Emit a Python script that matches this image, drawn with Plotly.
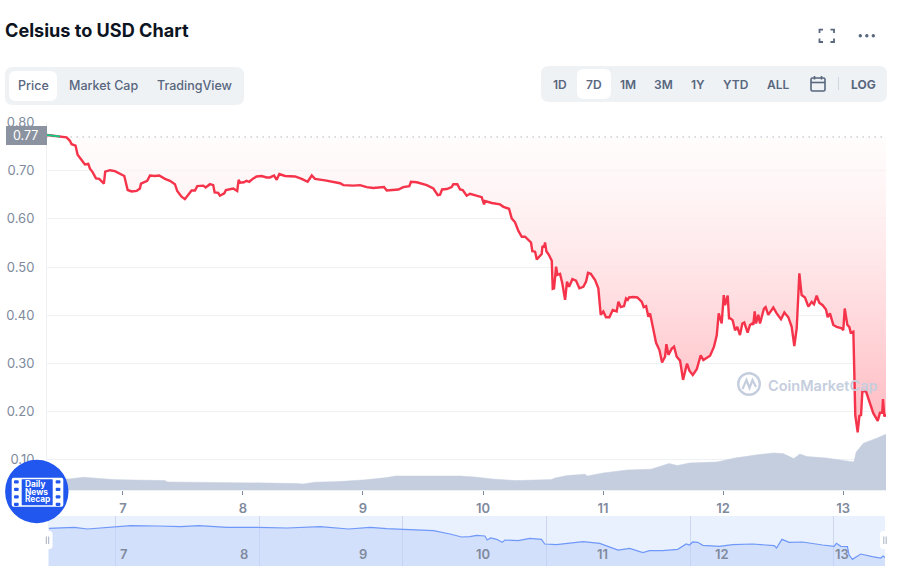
import plotly.graph_objects as go

# 가격 데이터 (day of month, USD)
price_days = [
    6.364, 6.475, 6.530, 6.558, 6.572, 6.605, 6.622, 6.655, 6.683, 6.711, 6.725, 6.747, 6.775, 6.802, 6.841, 6.852,
    6.891, 6.933, 6.975, 7.011, 7.039, 7.072, 7.114, 7.141, 7.150, 7.202, 7.225, 7.266, 7.302, 7.350, 7.391, 7.433,
    7.452, 7.488, 7.516, 7.544, 7.572, 7.600, 7.619, 7.669, 7.689, 7.725, 7.752, 7.764, 7.794, 7.808, 7.844, 7.858,
    7.891, 7.919, 7.952, 7.964, 7.975, 8.008, 8.030, 8.052, 8.086, 8.114, 8.155, 8.197, 8.225,
    8.259, 8.281, 8.303, 8.350, 8.434, 8.489, 8.539, 8.573, 8.600, 8.684, 8.767, 8.809, 8.836, 8.920, 8.975, 9.031,
    9.086, 9.175, 9.198, 9.295, 9.336, 9.386, 9.400, 9.448, 9.531, 9.586, 9.623, 9.642, 9.659, 9.698, 9.739, 9.753,
    9.786, 9.809, 9.831, 9.864, 9.892, 9.934, 9.989, 10.009, 10.017, 10.073, 10.142, 10.170, 10.217, 10.239, 10.267,
    10.295, 10.323, 10.350, 10.389,
    10.400, 10.411, 10.434, 10.448, 10.475, 10.489, 10.495, 10.511, 10.517, 10.528, 10.550, 10.573, 10.581, 10.592,
    10.609, 10.620, 10.642, 10.661, 10.684, 10.692, 10.700, 10.717, 10.745, 10.775, 10.803, 10.836, 10.859, 10.875,
    10.898, 10.934, 10.961, 10.981, 11.003, 11.025, 11.053, 11.081, 11.114, 11.128, 11.148, 11.175, 11.192, 11.206,
    11.217, 11.253, 11.286, 11.323, 11.339, 11.359, 11.378, 11.392, 11.411, 11.442, 11.470, 11.492, 11.517, 11.528,
    11.545, 11.573, 11.592, 11.614, 11.642, 11.667, 11.700, 11.720, 11.748, 11.781, 11.814, 11.836, 11.892, 11.925,
    11.948, 11.964, 11.989, 12.006, 12.017, 12.039, 12.050,
    12.058, 12.080, 12.100, 12.119, 12.141, 12.161, 12.177, 12.205, 12.225, 12.244, 12.252, 12.264, 12.275, 12.294,
    12.308, 12.341, 12.355, 12.377, 12.419, 12.447, 12.483, 12.511, 12.544, 12.572, 12.594, 12.614, 12.636, 12.655,
    12.683, 12.711, 12.739, 12.758, 12.780, 12.802, 12.830, 12.858, 12.872, 12.891, 12.919, 12.947, 12.989, 13.002,
    13.014, 13.036, 13.052, 13.064, 13.086, 13.094, 13.102, 13.122, 13.136, 13.150, 13.161, 13.189, 13.225, 13.252,
    13.289, 13.308, 13.327, 13.333, 13.344, 13.358,
]
price_values = [
    .774, .771, .769, .762, .755, .752, .733, .722, .713, .714, .704, .697, .684, .683, .673, .698,
    .701, .699, .694, .689, .660, .657, .658, .663, .673, .679, .690, .689, .690, .683, .679, .672,
    .658, .646, .641, .651, .659, .659, .668, .669, .665, .672, .670, .655, .654, .648, .653, .660,
    .662, .663, .658, .681, .675, .676, .679, .677, .684, .688, .689, .686, .686,
    .690, .681, .693, .689, .688, .683, .677, .690, .683, .680, .676, .674, .670, .669, .670, .666,
    .664, .666, .659, .661, .666, .668, .677, .676, .670, .663, .649, .650, .661, .662, .666, .672,
    .672, .661, .660, .648, .652, .649, .645, .630, .637, .633, .630, .625, .621, .601, .593,
    .575, .563, .563, .554,
    .551, .533, .532, .516, .524, .527, .542, .544, .551, .533, .525, .513, .455, .456,
    .501, .484, .486, .466, .432, .446, .470, .459, .475, .472, .456, .459, .470, .488,
    .486, .473, .456, .401, .408, .396, .396, .411, .408, .428, .417, .419, .435, .432,
    .437, .438, .437, .428, .417, .419, .397, .404, .380, .343, .328, .302, .314, .340,
    .318, .331, .335, .314, .306, .266, .300, .285, .276, .288, .317, .307, .316, .335,
    .359, .404, .383, .442, .421, .441, .394,
    .394, .390, .369, .376, .359, .383, .385, .364, .380, .383, .380, .408, .383, .401,
    .383, .414, .417, .401, .416, .404, .392, .406, .396, .376, .336, .373, .487, .442,
    .437, .418, .428, .423, .441, .426, .421, .412, .396, .404, .380, .376, .373, .369,
    .414, .380, .376, .364, .366, .280, .193, .157, .191, .193, .242, .244, .217, .197,
    .181, .198, .198, .226, .190, .195,
]
open_price = 0.77

# 거래량 (USD million)
volume_days = [
    6.37, 6.55, 6.67, 6.78, 6.92, 7.08, 7.35, 7.37, 7.58, 7.90, 8.10, 8.20, 8.45, 8.50, 8.60, 8.80, 9.00, 9.20, 9.27,
    9.60, 9.81, 9.93, 10.08, 10.28, 10.40, 10.57, 10.60, 10.70, 10.85, 10.87, 11.00, 11.20, 11.40, 11.55, 11.62, 11.72,
    11.95, 12.10, 12.30, 12.42, 12.50, 12.59, 12.64, 12.70, 12.86, 13.06, 13.09, 13.11, 13.17, 13.28, 13.358,
]
volume_values = [
    5.5, 5.5, 6.4, 6.0, 5.2, 5.0, 4.7, 4.0, 3.9, 3.7, 3.9, 3.5, 3.2, 3.0, 3.9, 4.2, 5.0, 6.2, 7.0,
    7.2, 7.0, 6.5, 5.5, 4.7, 5.0, 5.2, 6.0, 7.2, 7.9, 7.0, 8.5, 10.0, 10.4, 13.2, 12.2, 13.5,
    14.0, 16.0, 17.7, 18.5, 18.2, 15.7, 18.0, 16.7, 16.0, 14.2, 14.0, 19.0, 23.4, 25.9, 27.9,
]

# 아래쪽 미니맵
overview_days = [
    6.375, 6.586, 6.697, 6.891, 7.058, 7.280, 7.475, 7.627, 7.864, 8.114, 8.364, 8.641, 8.878, 9.058, 9.197, 9.336,
    9.586, 9.725, 9.822, 9.892, 9.947, 10.016, 10.036, 10.064, 10.114, 10.161, 10.183, 10.294, 10.391, 10.489, 10.516,
    10.614, 10.697, 10.836, 10.975, 11.128, 11.225, 11.336, 11.391, 11.502, 11.627, 11.697, 11.725, 11.752, 11.794,
    11.836, 11.975, 12.086, 12.252, 12.433, 12.452, 12.497, 12.558, 12.669, 12.836, 12.933, 12.952, 12.989, 13.044,
    13.058, 13.086, 13.155, 13.252, 13.322, 13.342, 13.358,
]
overview_values = [
    .743, .762, .729, .768, .793, .787, .774, .793, .762, .762, .749, .774, .729, .762, .735, .723,
    .697, .633, .575, .581, .607, .594, .517, .556, .530, .472, .517, .504, .549, .530, .440,
    .427, .453, .485, .453, .324, .356, .273, .311, .311, .337, .440, .421, .479, .472,
    .414, .395, .427, .440, .408, .363, .530, .472, .479, .421, .395, .453, .395, .389,
    .228, .144, .247, .196, .170, .209, .177,
]

y_ticks = [0.10, 0.20, 0.30, 0.40, 0.50, 0.60, 0.70, 0.80]
y_labels = ["0.10", "0.20", "0.30", "0.40", "0.50", "0.60", "0.70", "0.80"]
x_ticks = [7, 8, 9, 10, 11, 12, 13]
tab_labels = ["Price", "Market Cap", "TradingView"]
range_labels = ["1D", "7D", "1M", "3M", "1Y", "YTD", "ALL"]

W, H = 900, 576
FONT = "Inter"
GREY = "#58667e"
AXIS_GREY = "#808a9d"
GRID = "#eff2f5"
RED = "#f5334a"
GREEN = "#16c784"


# 픽셀 좌표 -> paper 좌표
def px(x):
    return x / W


def py(y):
    return 1 - y / H


def round_rect(x0, y0, x1, y1, r):
    return (
        f"M {px(x0 + r)} {py(y0)} L {px(x1 - r)} {py(y0)} Q {px(x1)} {py(y0)} {px(x1)} {py(y0 + r)} "
        f"L {px(x1)} {py(y1 - r)} Q {px(x1)} {py(y1)} {px(x1 - r)} {py(y1)} "
        f"L {px(x0 + r)} {py(y1)} Q {px(x0)} {py(y1)} {px(x0)} {py(y1 - r)} "
        f"L {px(x0)} {py(y0 + r)} Q {px(x0)} {py(y0)} {px(x0 + r)} {py(y0)} Z"
    )


def polyline(points):
    return "M " + " L ".join(f"{px(x)} {py(y)}" for x, y in points)


shapes = []
annotations = []


def add_box(x0, y0, x1, y1, r, fill, layer="above"):
    shapes.append(dict(type="path", xref="paper", yref="paper", path=round_rect(x0, y0, x1, y1, r),
                       fillcolor=fill, line_width=0, layer=layer))


def add_stroke(points, color=GREY, width=1.6):
    shapes.append(dict(type="path", xref="paper", yref="paper", path=polyline(points),
                       line=dict(color=color, width=width), layer="above"))


def add_circle(cx, cy, r, fill=None, line_color=None, line_width=0):
    shapes.append(dict(type="circle", xref="paper", yref="paper", x0=px(cx - r), x1=px(cx + r),
                       y0=py(cy + r), y1=py(cy - r), fillcolor=fill or "rgba(0,0,0,0)",
                       line=dict(color=line_color or "rgba(0,0,0,0)", width=line_width), layer="above"))


def add_text(x, y, text, size=13, color=GREY, weight=500, anchor="center"):
    annotations.append(dict(xref="paper", yref="paper", x=px(x), y=py(y), text=text, showarrow=False,
                            xanchor=anchor, yanchor="middle", borderpad=0, borderwidth=0,
                            font=dict(family=FONT, size=size, color=color, weight=weight)))


fig = go.Figure()

# 기준선 + 그라데이션 영역
fig.add_trace(go.Scatter(x=[price_days[0], price_days[-1]], y=[open_price, open_price], mode="lines",
                         line=dict(color="#8a939f", width=1, dash="1px,5px"), hoverinfo="skip"))
fig.add_trace(go.Scatter(x=price_days, y=price_values, mode="lines", fill="tonexty",
                         line=dict(color=RED, width=2.4),
                         fillgradient=dict(type="vertical",
                                           colorscale=[[0, "rgba(255,185,192,1)"],
                                                       [0.5, "rgba(255,222,225,0.9)"],
                                                       [1, "rgba(255,250,250,0.5)"]])))
fig.add_trace(go.Scatter(x=price_days[:2], y=price_values[:2], mode="lines", line=dict(color=GREEN, width=2)))

# 거래량
fig.add_trace(go.Scatter(x=volume_days, y=volume_values, mode="lines", yaxis="y3", fill="tozeroy",
                         fillcolor="#c5cede", line=dict(color="#c5cede", width=0.5)))

# 미니맵
fig.add_trace(go.Scatter(x=overview_days, y=overview_values, mode="lines", xaxis="x2", yaxis="y2", fill="tozeroy",
                         fillcolor="rgba(190,207,250,0.5)", line=dict(color="#6f98f8", width=1.2)))

add_box(48, 516, 885, 566, 0, "#e9f0fe", layer="below")

# 제목, 탭
add_text(5, 29.5, "Celsius to USD Chart", size=18.1, color="#0d1421", weight=700, anchor="left")
add_box(5, 67, 244, 105, 8, "#eff2f5", layer="below")
add_box(9, 71, 57, 101, 7, "#ffffff", layer="below")
for label, cx in zip(tab_labels, [33, 103, 194.5]):
    add_text(cx, 85.5, label, size=12.5)

add_box(541, 66, 887, 102, 8, "#eff2f5", layer="below")
add_box(577, 69, 611, 99, 7, "#ffffff", layer="below")
for label, cx in zip(range_labels, [560, 593.5, 627.5, 663.5, 698, 735.5, 778]):
    add_text(cx, 85, label, size=12, weight=600)
add_text(863, 84, "LOG", size=12, weight=700)
shapes.append(dict(type="line", xref="paper", yref="paper", x0=px(838.5), x1=px(838.5), y0=py(77), y1=py(90),
                   line=dict(color="#cfd6e4", width=1), layer="above"))

# 달력 아이콘
shapes.append(dict(type="path", xref="paper", yref="paper", path=round_rect(811, 78, 825, 91, 1.5),
                   line=dict(color=GREY, width=1.6), layer="above"))
add_stroke([(811, 82.5), (825, 82.5)])
add_stroke([(814.5, 76), (814.5, 79.5)])
add_stroke([(821.5, 76), (821.5, 79.5)])

# 전체화면, 더보기 아이콘
add_stroke([(819.5, 33), (819.5, 29.7), (823, 29.7)], width=1.8)
add_stroke([(830.5, 29.7), (834, 29.7), (834, 33)], width=1.8)
add_stroke([(819.5, 38.5), (819.5, 42), (823, 42)], width=1.8)
add_stroke([(830.5, 42), (834, 42), (834, 38.5)], width=1.8)
for cx in [860.3, 866.8, 873.3]:
    add_circle(cx, 35.7, 1.7, fill=GREY)

# 현재가 태그
add_box(6, 126, 47, 145, 0, "#8a939f")
add_text(25, 135.5, "0.77", size=12.5, color="#ffffff", weight=400)

# 워터마크
add_circle(749, 384, 10.8, line_color="#c5cede", line_width=2.4)
add_stroke([(742.5, 389), (746.5, 380), (749.5, 388), (752.5, 380), (756, 387)], color="#c5cede", width=2.2)
add_text(768, 385, "CoinMarketCap", size=14.5, color="#c5cede", weight=600, anchor="left")

# 미니맵 핸들
for cx in [47.5, 885]:
    add_box(cx - 5, 531, cx + 5, 549, 3, "#ffffff")
    add_stroke([(cx - 1.2, 536.5), (cx - 1.2, 544)], color="#a6b0c3", width=1)
    add_stroke([(cx + 1.2, 536.5), (cx + 1.2, 544)], color="#a6b0c3", width=1)
for day in x_ticks:
    annotations.append(dict(xref="x2", yref="paper", x=day, y=py(554), text=str(day), showarrow=False,
                            yanchor="middle", font=dict(family=FONT, size=13, color=AXIS_GREY, weight=600)))

# Daily News Recap 배지
add_circle(36.8, 491.5, 31.7, fill="#2157ee")
add_box(11.7, 477.7, 63.3, 506.7, 2, "#ffffff")
add_box(21.7, 479.2, 52.7, 505.2, 0.5, "#2157ee")
for cy in [480.3, 487.8, 495.2, 502.8]:
    add_box(14, cy, 18.7, cy + 3.2, 1, "#2157ee")
    add_box(55.7, cy, 60.4, cy + 3.2, 1, "#2157ee")
for text, cy in zip(["Daily", "News", "Recap"], [484.3, 491.8, 499.4]):
    add_text(24.5, cy, text, size=8.3, color="#ffffff", weight=700, anchor="left")

fig.update_layout(
    width=W, height=H, margin=dict(l=0, r=0, t=0, b=0, autoexpand=False), showlegend=False,
    paper_bgcolor="#ffffff", plot_bgcolor="rgba(0,0,0,0)", font=dict(family=FONT),
    shapes=shapes, annotations=annotations,
    xaxis=dict(domain=[px(47), px(886)], range=[6.367, 13.358], tickvals=x_ticks, ticks="outside", ticklen=4,
               tickcolor=AXIS_GREY, tickfont=dict(family=FONT, size=13, color=AXIS_GREY, weight=600),
               ticklabelstandoff=2, showgrid=False, showline=True, linecolor=GRID, zeroline=False, anchor="y",
               automargin=False),
    yaxis=dict(domain=[py(490), py(122)], range=[0.0376, 0.801], tickvals=y_ticks, ticktext=y_labels,
               tickfont=dict(family=FONT, size=13, color=AXIS_GREY), ticklabelstandoff=9, gridcolor=GRID,
               showline=True, linecolor=GRID, zeroline=False, anchor="x", automargin=False),
    yaxis3=dict(overlaying="y", range=[0, 184], visible=False, anchor="x", automargin=False),
    xaxis2=dict(domain=[px(48), px(885)], range=[6.367, 13.358], tick0=6.93, dtick=1.2, showticklabels=False,
                ticks="", gridcolor="#cdd8f0", zeroline=False, anchor="y2", automargin=False),
    yaxis2=dict(domain=[py(566), py(516)], range=[0.016, 0.98], visible=False, anchor="x2", automargin=False),
)

fig.write_html("out.html", config=dict(displayModeBar=False), post_script="document.body.style.margin='0';")
